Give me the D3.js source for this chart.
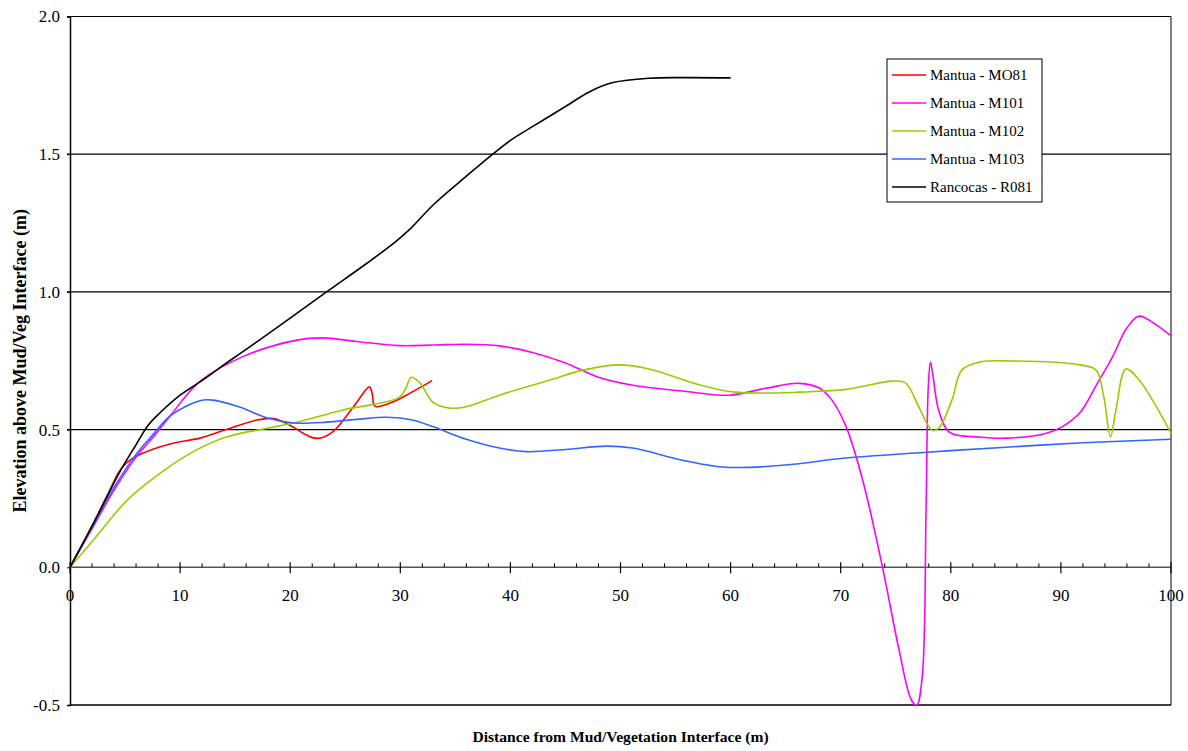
<!DOCTYPE html>
<html>
<head>
<meta charset="utf-8">
<script src="https://cdn.jsdelivr.net/npm/d3@7"></script>
<style>
  body { margin: 0; background: #fff; }
  svg { display: block; font-family: "Liberation Serif", "Times New Roman", serif; }
</style>
</head>
<body>
<svg width="1188" height="751"></svg>
<script>
// series names and colours
let seriesNames = ['Mantua - MO81', 'Mantua - M101', 'Mantua - M102', 'Mantua - M103', 'Rancocas - R081']
let seriesColors = ['#ff0000', '#ff00ff', '#99cc00', '#3366ff', '#000000']

// [distance (m), elevation (m)]
let mo81 = [[0,0],[2,0.15],[3.5,0.27],[4.5,0.35],[5.3,0.385],[6.6,0.414],[9,0.447],[11.8,0.469],[14.2,0.5],[17,0.535],[18.5,0.54],[20,0.515],[21.5,0.48],[22.5,0.468],[23.8,0.49],[25.7,0.58],[27.2,0.655],[27.45,0.63],[27.7,0.585],[29.3,0.6],[31,0.635],[32.9,0.678]]
let m101 = [[0,0],[2,0.14],[4,0.28],[6,0.4],[7.5,0.47],[9,0.545],[11.8,0.675],[15.7,0.765],[20.6,0.825],[23,0.833],[26,0.82],[29.9,0.805],[33,0.807],[36,0.81],[39,0.804],[42,0.78],[45,0.742],[48,0.69],[51,0.662],[55.6,0.64],[59.9,0.625],[63.2,0.65],[66.2,0.668],[68.1,0.65],[69.2,0.607],[70.5,0.51],[72,0.316],[73.8,0],[75.3,-0.3],[76.4,-0.48],[76.9,-0.5],[77.4,-0.4],[77.75,0.2],[77.95,0.65],[78.15,0.745],[78.4,0.69],[78.9,0.57],[79.9,0.49],[82.6,0.473],[85,0.469],[88.7,0.487],[90.1,0.51],[91.7,0.56],[93.2,0.66],[94.7,0.765],[96,0.87],[97.1,0.912],[98.5,0.885],[100,0.84]]
let m102 = [[0,0],[2.1,0.098],[5.2,0.244],[8.2,0.342],[11.2,0.42],[14.2,0.473],[17.9,0.505],[20.3,0.524],[24.8,0.571],[29.9,0.617],[30.5,0.65],[31,0.69],[31.8,0.669],[33,0.598],[34.5,0.578],[36,0.583],[39,0.625],[43.6,0.68],[46.6,0.716],[49.9,0.735],[52.6,0.72],[57.2,0.662],[60.2,0.637],[64.4,0.633],[66.2,0.636],[70.5,0.646],[74.7,0.676],[75.9,0.669],[77.1,0.582],[78.3,0.498],[78.9,0.505],[80.1,0.607],[81,0.716],[82.6,0.745],[85.6,0.749],[91.7,0.735],[93.2,0.716],[93.9,0.618],[94.5,0.473],[95,0.571],[95.9,0.72],[97.1,0.68],[100,0.487]]
let m103 = [[0,0],[2,0.145],[4,0.29],[6,0.41],[7.5,0.48],[9.1,0.55],[11.8,0.605],[13,0.607],[15.4,0.582],[17.9,0.542],[20.3,0.524],[23.3,0.527],[26,0.537],[28.8,0.545],[31.1,0.535],[33,0.51],[36,0.465],[39,0.433],[41.5,0.42],[45,0.428],[48.7,0.44],[51.1,0.433],[55.6,0.389],[59.3,0.364],[61.7,0.363],[66.2,0.376],[70,0.395],[77.5,0.417],[85,0.436],[92,0.452],[100,0.465]]
let r081 = [[0,0],[2.2,0.165],[4.5,0.345],[6,0.445],[7.1,0.516],[8.2,0.562],[10,0.625],[11.8,0.673],[14.5,0.75],[17.2,0.825],[20,0.905],[23.3,1.0],[27,1.105],[29.5,1.18],[30.8,1.225],[33.1,1.32],[36,1.42],[38.4,1.5],[40,1.55],[42,1.6],[45,1.673],[47.2,1.727],[49.3,1.76],[52.6,1.776],[56,1.778],[60,1.777]]

let seriesData = [mo81, m101, m102, m103, r081]

let yTicks = [-0.5, 0.0, 0.5, 1.0, 1.5, 2.0]
let xTicks = [0, 10, 20, 30, 40, 50, 60, 70, 80, 90, 100]

let plotLeft = 70
let plotRight = 1171
let plotTop = 16.5
let plotBottom = 705

let svg = d3.select('svg')

let xScale = d3.scaleLinear().domain([0, 100]).range([plotLeft, plotRight])
let yScale = d3.scaleLinear().domain([-0.5, 2.0]).range([plotBottom, plotTop])

// gridlines
svg.append('g')
  .selectAll('line')
  .data(yTicks.filter(d => d > 0))
  .enter()
  .append('line')
  .attr('x1', plotLeft - 3)
  .attr('x2', plotRight)
  .attr('y1', d => yScale(d))
  .attr('y2', d => yScale(d))
  .attr('stroke', '#000')
  .attr('stroke-width', 1.2)

// y-axis
let yAxis = d3.axisLeft(yScale)
  .tickValues(yTicks)
  .tickFormat(d => d.toFixed(1))
  .tickSize(3)
  .tickPadding(7)

let yg = svg.append('g')
  .attr('transform', 'translate(' + plotLeft + ', 0)')
  .call(yAxis)
yg.select('.domain').attr('stroke', '#000').attr('stroke-width', 1.5)
yg.selectAll('text').attr('font-size', 17).attr('font-family', '"Liberation Serif", serif').attr('fill', '#000')

// right and bottom borders
svg.append('line')
  .attr('x1', plotRight).attr('x2', plotRight)
  .attr('y1', plotTop).attr('y2', plotBottom)
  .attr('stroke', '#555').attr('stroke-width', 1.5)
svg.append('line')
  .attr('x1', plotLeft).attr('x2', plotRight)
  .attr('y1', plotBottom).attr('y2', plotBottom)
  .attr('stroke', '#000').attr('stroke-width', 1.5)

// x-axis at y = 0
let y0 = yScale(0)
let minorTicks = d3.range(0, 101, 2).filter(d => d % 10 !== 0)
let xg = svg.append('g')
xg.append('line')
  .attr('x1', plotLeft).attr('x2', plotRight)
  .attr('y1', y0).attr('y2', y0)
  .attr('stroke', '#555').attr('stroke-width', 1.5)
xg.selectAll('.minor')
  .data(minorTicks)
  .enter()
  .append('line')
  .attr('class', 'minor')
  .attr('x1', d => xScale(d)).attr('x2', d => xScale(d))
  .attr('y1', y0 - 4).attr('y2', y0)
  .attr('stroke', '#000').attr('stroke-width', 1)
xg.selectAll('.major')
  .data(xTicks)
  .enter()
  .append('line')
  .attr('class', 'major')
  .attr('x1', d => xScale(d)).attr('x2', d => xScale(d))
  .attr('y1', y0 - 5).attr('y2', y0 + 6)
  .attr('stroke', '#000').attr('stroke-width', 1.2)
xg.selectAll('text')
  .data(xTicks)
  .enter()
  .append('text')
  .attr('x', d => xScale(d))
  .attr('y', y0 + 34)
  .attr('text-anchor', 'middle')
  .attr('font-size', 17)
  .text(d => d)

// axis titles
svg.append('text')
  .attr('x', (plotLeft + plotRight) / 2)
  .attr('y', 742)
  .attr('text-anchor', 'middle')
  .attr('font-size', 15.6)
  .attr('font-weight', 'bold')
  .text('Distance from Mud/Vegetation Interface (m)')

svg.append('text')
  .attr('transform', 'translate(26, ' + (plotTop + plotBottom) / 2 + ') rotate(-90)')
  .attr('text-anchor', 'middle')
  .attr('font-size', 18)
  .attr('font-weight', 'bold')
  .text('Elevation above Mud/Veg Interface (m)')

// lines
let line = d3.line()
  .x(d => xScale(d[0]))
  .y(d => yScale(d[1]))
  .curve(d3.curveCatmullRom.alpha(0.5))

svg.append('g')
  .selectAll('path')
  .data(seriesData)
  .enter()
  .append('path')
  .attr('d', d => line(d))
  .attr('fill', 'none')
  .attr('stroke', (d, i) => seriesColors[i])
  .attr('stroke-width', 1.6)

// legend
let legend = svg.append('g').attr('transform', 'translate(887, 59)')
legend.append('rect')
  .attr('width', 155).attr('height', 143)
  .attr('fill', '#fff').attr('stroke', '#000').attr('stroke-width', 1)
let rows = legend.selectAll('g')
  .data(seriesNames)
  .enter()
  .append('g')
  .attr('transform', (d, i) => 'translate(0, ' + (16 + i * 28) + ')')
rows.append('line')
  .attr('x1', 5).attr('x2', 39)
  .attr('stroke', (d, i) => seriesColors[i])
  .attr('stroke-width', 1.6)
rows.append('text')
  .attr('x', 43)
  .attr('y', 5)
  .attr('font-size', 15)
  .text(d => d)
</script>
</body>
</html>
